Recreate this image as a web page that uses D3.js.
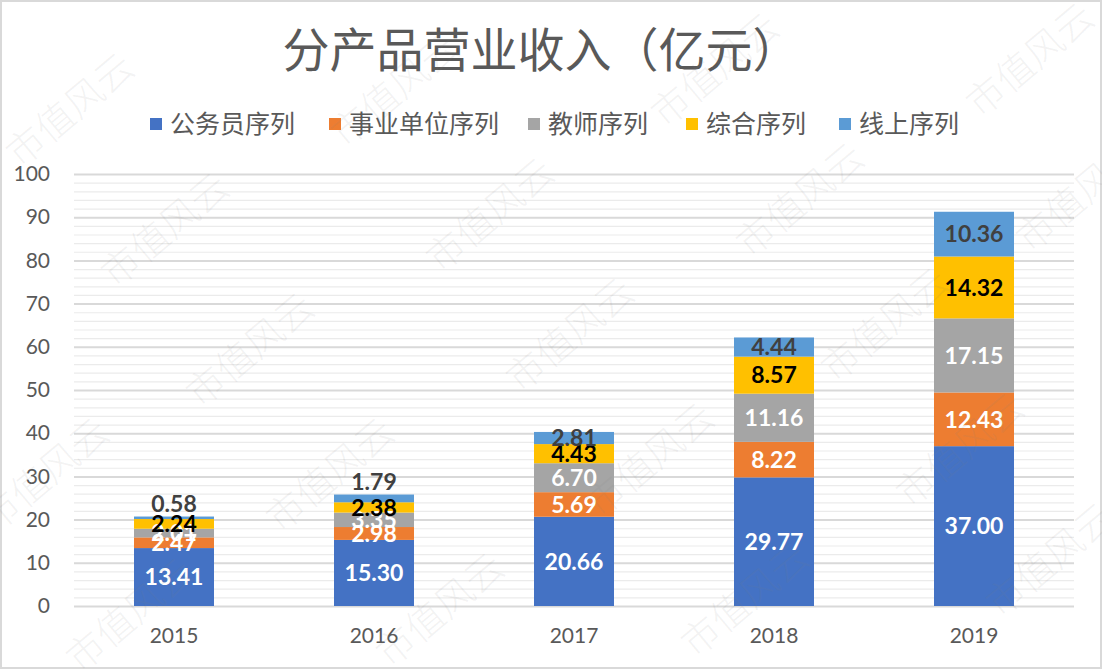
<!DOCTYPE html>
<html><head><meta charset="utf-8">
<script src="https://cdn.jsdelivr.net/npm/d3@7/dist/d3.min.js"></script>
<style>
html,body{margin:0;padding:0;background:#fff;}
svg{display:block;font-family:"Lato","Noto Sans CJK SC",sans-serif;}
</style></head>
<body>
<svg id="chart" width="1102" height="669"></svg>
<script>
const years = ["2015","2016","2017","2018","2019"];
const seriesNames = ["公务员序列","事业单位序列","教师序列","综合序列","线上序列"];
const civilServant = [13.41,15.30,20.66,29.77,37.00];
const publicInst  = [2.47,2.98,5.69,8.22,12.43];
const teacher     = [2.01,3.35,6.70,11.16,17.15];
const general     = [2.24,2.38,4.43,8.57,14.32];
const online      = [0.58,1.79,2.81,4.44,10.36];
const yTicks = [0,10,20,30,40,50,60,70,80,90,100];
const titleText = "分产品营业收入（亿元）";
const watermarkText = "市值风云";

const colors = ["#4472C4","#ED7D31","#A5A5A5","#FFC000","#5B9BD5"];
const labelColors = ["#ffffff","#ffffff","#ffffff","#000000","#404040"];

const W = 1102, H = 669;
const svg = d3.select("#chart");

const table = years.map((yr,i)=>({year:yr, s0:civilServant[i], s1:publicInst[i], s2:teacher[i], s3:general[i], s4:online[i]}));
const keys = ["s0","s1","s2","s3","s4"];
const stacked = d3.stack().keys(keys)(table);

const x = d3.scaleBand().domain(years).range([74,1074]).paddingInner(0.6).paddingOuter(0.3);
const y = d3.scaleLinear().domain([0,100]).range([606,174]);

// border
svg.append("rect").attr("x",1).attr("y",1).attr("width",W-2).attr("height",H-2)
  .attr("fill","#fff").attr("stroke","#d9d9d9").attr("stroke-width",2);

// minor gridlines
const minor = d3.range(0,101,2).filter(v=>v%10!==0);
svg.append("g").selectAll("line").data(minor).join("line")
  .attr("x1",74).attr("x2",1074).attr("y1",d=>y(d)+0.5).attr("y2",d=>y(d)+0.5)
  .attr("stroke","#ebebeb").attr("stroke-width",1.2);

// major gridlines via axis
const gy = svg.append("g").attr("transform","translate(74,0)")
  .call(d3.axisLeft(y).tickValues(yTicks).tickSize(-1000).tickPadding(24));
gy.select(".domain").remove();
gy.selectAll(".tick line").attr("stroke","#d9d9d9").attr("stroke-width",2);
gy.selectAll(".tick text").attr("fill","#595959").style("font-size","21px").style("font-family","Lato, sans-serif");

// title
svg.append("text").attr("x",541).attr("y",67).attr("text-anchor","middle")
  .attr("fill","#595959").style("font-size","47px").style("font-family","'Noto Sans CJK SC',sans-serif")
  .text(titleText);

// legend
const legendX = [150,329,528,686,839];
const lg = svg.append("g");
seriesNames.forEach((n,i)=>{
  lg.append("rect").attr("x",legendX[i]).attr("y",118).attr("width",12).attr("height",12).attr("fill",colors[i]);
  lg.append("text").attr("x",legendX[i]+20).attr("y",133).attr("fill","#595959")
    .style("font-size","25px").style("font-family","'Noto Sans CJK SC',sans-serif").text(n);
});

// bars
const bars = svg.append("g");
stacked.forEach((layer,si)=>{
  bars.append("g").attr("fill",colors[si]).selectAll("rect").data(layer).join("rect")
    .attr("x",d=>x(d.data.year)).attr("width",x.bandwidth())
    .attr("y",d=>y(d[1])).attr("height",d=>y(d[0])-y(d[1]));
});

// x axis labels
const gx = svg.append("g").attr("transform","translate(0,606)")
  .call(d3.axisBottom(x).tickSize(0).tickPadding(22));
gx.select(".domain").remove();
gx.selectAll(".tick text").attr("fill","#595959").style("font-size","21px").style("font-family","Lato, sans-serif");

// data labels
const lblG = svg.append("g");
stacked.forEach((layer,si)=>{
  lblG.selectAll(null).data(layer).join("text")
    .attr("x",d=>x(d.data.year)+x.bandwidth()/2)
    .attr("y",d=>{
      const h = y(d[0])-y(d[1]);
      if(si===keys.length-1 && h<10) return y(d[1])-13;
      return (y(d[0])+y(d[1]))/2;
    })
    .attr("dy","0.36em").attr("text-anchor","middle")
    .attr("fill",labelColors[si]).style("font-size","23px").style("font-weight","bold")
    .style("font-family","Lato, sans-serif")
    .text(d=>(d[1]-d[0]).toFixed(2));
});

// watermarks (decoration)
const wmPos = [[70,110],[395,90],[715,70],[1030,60],[165,230],[490,215],[800,200],[1080,195],
  [250,350],[570,335],[885,325],[45,475],[330,475],[650,460],[960,450],[130,615],[440,610],[745,600],[1050,560]];
svg.append("g").selectAll("text").data(wmPos).join("text")
  .attr("transform",d=>`translate(${d[0]},${d[1]}) rotate(-40)`)
  .attr("text-anchor","middle").attr("dy","0.35em")
  .attr("fill","#7f7f7f").attr("fill-opacity",0.1)
  .style("font-size","38px").style("font-family","'Noto Sans CJK SC',sans-serif").style("font-weight","300")
  .text(watermarkText);
</script>
</body></html>
